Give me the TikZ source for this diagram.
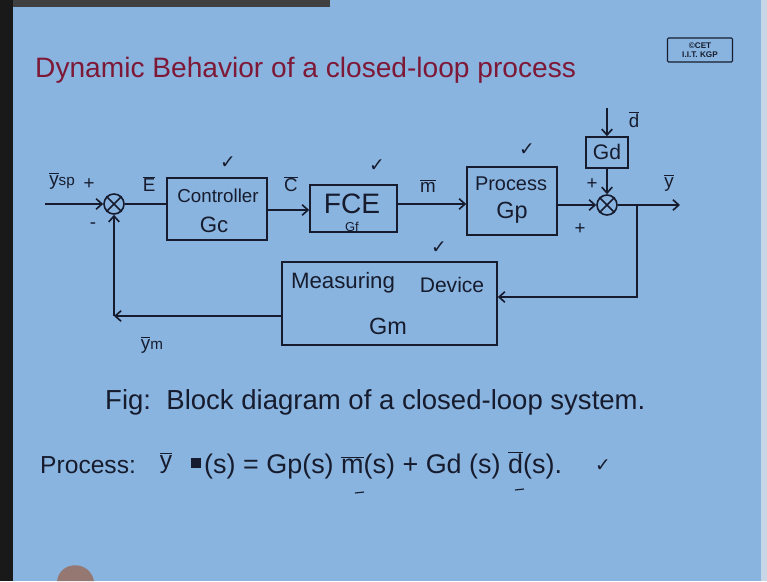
\documentclass[tikz,border=0pt]{standalone}
\usepackage{fontspec}
\setmainfont{Liberation Sans}
\newfontfamily\djv{DejaVu Sans}
\usetikzlibrary{arrows.meta}
\definecolor{bg}{RGB}{138,180,224}
\definecolor{ink}{RGB}{22,28,45}
\definecolor{ttl}{RGB}{125,25,55}
\definecolor{skin}{RGB}{150,120,115}
\definecolor{edge}{RGB}{200,215,232}
\newcommand{\ob}[1]{$\overline{\mbox{#1}}$}
\newcommand{\fsz}[1]{\fontsize{#1}{#1}\selectfont}
\begin{document}
\begin{tikzpicture}[x=0.03cm,y=-0.03cm,
  blk/.style={draw=ink, line width=1.4pt, inner sep=0pt},
  sumj/.style={draw=ink, line width=1.4pt, circle, minimum size=0.6cm, inner sep=0pt},
  wire/.style={draw=ink, line width=1.4pt},
  arr/.style={wire, -{Straight Barb[length=5pt,width=9pt,line width=1.4pt]}},
  lbl/.style={text=ink, font=\fsz{16}, inner sep=0pt},
  tick/.style={text=ink, font=\djv\fsz{16}, inner sep=0pt}]
% background
\fill[bg] (0,0) rectangle (767,581);
\useasboundingbox (0,0) rectangle (767,581);
\fill[black!90] (0,0) rectangle (13,581);
\fill[black!75] (13,0) rectangle (330,7);
\fill[edge] (761,0) rectangle (767,581);
% title
\node[text=ttl, font=\fsz{24}, anchor=west, inner sep=0pt] (title) at (35,70) {Dynamic Behavior of a closed-loop process};
% copyright box
\node[draw=ink, line width=0.9pt, rounded corners=1pt, minimum width=1.95cm, minimum height=0.72cm, inner sep=0pt, align=center, text=ink, font=\bfseries\fontsize{7}{7.5}\selectfont] (cet) at (700,50) {©CET\\I.I.T. KGP};
% blocks
\node[blk, minimum width=3.0cm, minimum height=1.86cm] (ctrl) at (217,209) {};
\node[blk, minimum width=2.61cm, minimum height=1.41cm] (fce) at (353.5,208.5) {};
\node[blk, minimum width=2.7cm, minimum height=2.04cm] (proc) at (512,201) {};
\node[blk, minimum width=1.26cm, minimum height=0.93cm] (gd) at (607,152.5) {};
\node[blk, minimum width=6.45cm, minimum height=2.49cm] (meas) at (389.5,303.5) {};
% block texts
\node[lbl] (tctrl) at (218,196) {Controller};
\node[lbl, font=\fsz{19}] (tgc) at (214,225) {Gc};
\node[lbl, font=\fsz{24}] (tfce) at (352,204) {FCE};
\node[lbl, font=\fsz{11}] (tgf) at (352,227) {Gf};
\node[lbl, font=\fsz{17}] (tproc) at (511,184) {Process};
\node[lbl, font=\fsz{20}] (tgp) at (512,213) {Gp};
\node[lbl, font=\fsz{18}] (tgd) at (607,152) {Gd};
\node[lbl, font=\fsz{19}] (tmeas1) at (343,283) {Measuring};
\node[lbl, font=\fsz{18}] (tmeas2) at (452,285) {Device};
\node[lbl, font=\fsz{20}] (tgm) at (388,326) {Gm};
% summing junctions
\node[sumj] (s1) at (114,204) {};
\node[sumj] (s2) at (607,205) {};
\draw[wire] (s1.north west) -- (s1.south east) (s1.north east) -- (s1.south west);
\draw[wire] (s2.north west) -- (s2.south east) (s2.north east) -- (s2.south west);
% coordinates
\coordinate (yin) at (45,204);
\coordinate (dtop) at (607,108);
\coordinate (yout) at (680,205);
\coordinate (br) at (637,205);
\coordinate (fb1) at (637,297);
\coordinate (fb2) at (114,316);
% connectors
\draw[arr] (yin) -- (s1.west);
\draw[wire] (s1.east) -- (s1 -| ctrl.west);
\draw[arr] (ctrl.east |- 0,210) -- (fce.west |- 0,210);
\draw[arr] (fce.east |- 0,204) -- (proc.west |- 0,204);
\draw[arr] (proc.east |- s2) -- (s2.west);
\draw[arr] (dtop) -- (gd.north);
\draw[arr] (gd.south) -- (s2.north);
\draw[arr] (s2.east) -- (yout);
\draw[arr] (br) -- (fb1) -- (fb1 -| meas.east);
\draw[arr] (meas.west |- fb2) -- (fb2);
\draw[arr] (fb2) -- (s1.south);
% signal labels
\node[lbl] (lysp) at (62,181) {\ob{y}{\fsz{13}sp}};
\node[lbl] (lp1) at (89,184) {+};
\node[lbl] (lm1) at (93,226) {-};
\node[lbl] (lE) at (149,184) {\ob{E}};
\node[lbl] (lC) at (291,184) {\ob{C}};
\node[lbl] (lm) at (428,186) {\ob{m}};
\node[lbl] (ld) at (634,120) {\ob{d}};
\node[lbl] (lp2) at (592,184) {+};
\node[lbl] (lp3) at (580,229) {+};
\node[lbl] (ly) at (669,183) {\ob{y}};
\node[lbl] (lym) at (152,345) {\ob{y}{\fsz{13}m}};
% check marks
\node[tick] (c1) at (228,163) {✓};
\node[tick] (c2) at (377,166) {✓};
\node[tick] (c3) at (527,150) {✓};
\node[tick] (c4) at (439,248) {✓};
% caption
\node[text=ink, font=\fsz{23.5}, anchor=west, inner sep=0pt] (cap) at (105,402) {Fig:\ \ Block diagram of a closed-loop system.};
% equation
\node[text=ink, font=\fsz{21}, anchor=west, inner sep=0pt] (eqp) at (40,465) {Process:};
\node[text=ink, font=\fsz{21}, inner sep=0pt] (eqy) at (166,463) {\ob{y}};
\fill[ink] (191,458) rectangle (201,468);
\node[text=ink, font=\fsz{23}, anchor=west, inner sep=0pt] (eqr) at (204,465) {(s) = Gp(s) \ob{m}(s) + Gd (s) \ob{d}(s).};
\node[tick] (c5) at (603,466) {✓};
\draw[wire, line width=1pt] (355,493) -- (364,492);
\draw[wire, line width=1pt] (515,490) -- (524,489);
% finger
\fill[skin] (57,581) .. controls (60,560) and (90,560) .. (94,581) -- cycle;
\end{tikzpicture}
\end{document}
